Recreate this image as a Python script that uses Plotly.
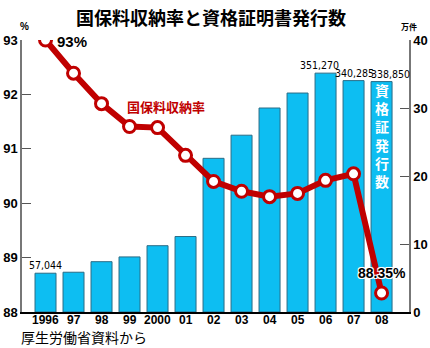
import plotly.graph_objects as go

years = ["1996", "97", "98", "99", "2000", "01", "02", "03", "04", "05", "06", "07", "08"]
certificates = [5.7044, 5.85, 7.4, 8.1, 9.75, 11.1, 22.6, 26.0, 30.0, 32.2, 35.127, 34.0285, 33.885]  # 万件
collection_rate = [93.0, 92.39, 91.83, 91.41, 91.39, 90.88, 90.40, 90.22, 90.12, 90.18, 90.42, 90.54, 88.35]  # %
bar_labels = {0: "57,044", 10: "351,270", 11: "340,285", 12: "338,850"}

W, H = 430, 348
ML, MR, MT, MB = 22, 21, 40, 36
PH = H - MT - MB


def py(pix):
    return (H - MB - pix) / PH


def px(pix):
    return (pix - ML) / (W - ML - MR)


x = list(range(len(years)))
JP = "Noto Sans CJK JP"
NUM = "Liberation Sans, Arial, sans-serif"
NARROW = "DejaVu Sans Condensed, Liberation Sans Narrow, Arial Narrow, Liberation Sans, sans-serif"

fig = go.Figure()
fig.add_trace(go.Bar(
    x=x, y=certificates, width=0.75,
    marker=dict(color="#0DBEF2", line=dict(color="#2B6C86", width=1)),
    yaxis="y", hoverinfo="skip",
))
fig.add_trace(go.Scatter(
    x=x, y=collection_rate, yaxis="y2", mode="lines+markers",
    line=dict(color="#C00000", width=6),
    marker=dict(size=12, color="white", line=dict(color="#C00000", width=3)),
    hoverinfo="skip",
))

annotations = []
# title
annotations.append(dict(text="<b>国保料収納率と資格証明書発行数</b>", xref="paper", yref="paper",
                        x=px(211), y=py(17), showarrow=False, xanchor="center", yanchor="middle",
                        font=dict(family=JP, size=18, color="black")))
# axis unit labels
annotations.append(dict(text="<b>%</b>", xref="paper", yref="paper", x=px(24), y=py(27),
                        showarrow=False, xanchor="center", yanchor="middle",
                        font=dict(family=NUM, size=10, color="black")))
annotations.append(dict(text="<b>万件</b>", xref="paper", yref="paper", x=px(409), y=py(27),
                        showarrow=False, xanchor="center", yanchor="middle",
                        font=dict(family=JP, size=8, color="black")))
# source
annotations.append(dict(text="厚生労働省資料から", xref="paper", yref="paper", x=px(19), y=py(337),
                        showarrow=False, xanchor="left", yanchor="middle",
                        font=dict(family=JP, size=14, color="black")))
# category labels
for i, yl in enumerate(years):
    annotations.append(dict(text="<b>%s</b>" % yl, x=x[i], y=py(320), xref="x", yref="paper",
                            showarrow=False, xanchor="center", yanchor="middle",
                            font=dict(family=NUM, size=12, color="black")))
# bar value labels
shifts = {0: 0, 10: -6, 11: 1, 12: 9}
for i, t in bar_labels.items():
    annotations.append(dict(text=t, x=x[i], y=certificates[i], xref="x", yref="y",
                            showarrow=False, xanchor="center", yanchor="bottom",
                            xshift=shifts[i], yshift=0,
                            font=dict(family=NARROW, size=10.5, color="black")))
# line labels
annotations.append(dict(text="<b>93%</b>", x=x[0], y=collection_rate[0], xref="x", yref="y2",
                        showarrow=False, xanchor="left", yanchor="middle", xshift=9, yshift=-1,
                        font=dict(family=NUM, size=15, color="black")))
annotations.append(dict(text="<b>88.35%</b>", x=x[12], y=collection_rate[12], xref="x", yref="y2",
                        showarrow=False, xanchor="center", yanchor="middle", xshift=0, yshift=20,
                        font=dict(family=NUM, size=14, color="black",
                                  shadow="-1px -1px 0 #fff, 1px -1px 0 #fff, -1px 1px 0 #fff, 1px 1px 0 #fff, 0 0 2px #fff")))
annotations.append(dict(text="<b>国保料収納率</b>", x=x[3], y=collection_rate[3], xref="x", yref="y2",
                        showarrow=False, xanchor="left", yanchor="middle", xshift=-5, yshift=20,
                        font=dict(family=JP, size=13, color="#C00000")))
# vertical text inside last bar
annotations.append(dict(text="<br>".join("<b>%s</b>" % c for c in "資格証発行数"),
                        x=x[12], y=25.9, xref="x", yref="y", showarrow=False,
                        xanchor="center", yanchor="middle",
                        font=dict(family=JP, size=14, color="white")))

fig.update_layout(
    width=W, height=H, template="none",
    margin=dict(l=ML, r=MR, t=MT, b=MB),
    paper_bgcolor="white", plot_bgcolor="white",
    showlegend=False, bargap=0.25,
    xaxis=dict(range=[-0.84, 12.98], tickmode="array", tickvals=x, showticklabels=False,
               showgrid=False, zeroline=False, showline=True, linecolor="black", linewidth=1.5,
               ticks="", automargin=False, fixedrange=True),
    yaxis=dict(range=[0, 40], side="right", tickvals=[0, 10, 20, 30, 40],
               ticktext=["<b>%d</b>" % v for v in [0, 10, 20, 30, 40]],
               showgrid=False, zeroline=False, showline=True, linecolor="#777", linewidth=1.5,
               ticks="inside", ticklen=9, tickcolor="#555", tickwidth=1,
               tickfont=dict(family=NUM, size=13, color="black"), automargin=False),
    yaxis2=dict(range=[88, 93], overlaying="y", side="left", tickvals=[88, 89, 90, 91, 92, 93],
                ticktext=["<b>%d</b>" % v for v in [88, 89, 90, 91, 92, 93]],
                showgrid=False, zeroline=False, showline=True, linecolor="#777", linewidth=1.5,
                ticks="inside", ticklen=9, tickcolor="#555", tickwidth=1,
                tickfont=dict(family=NUM, size=13, color="black"), automargin=False),
    annotations=annotations,
)

fig.write_html("out.html")
